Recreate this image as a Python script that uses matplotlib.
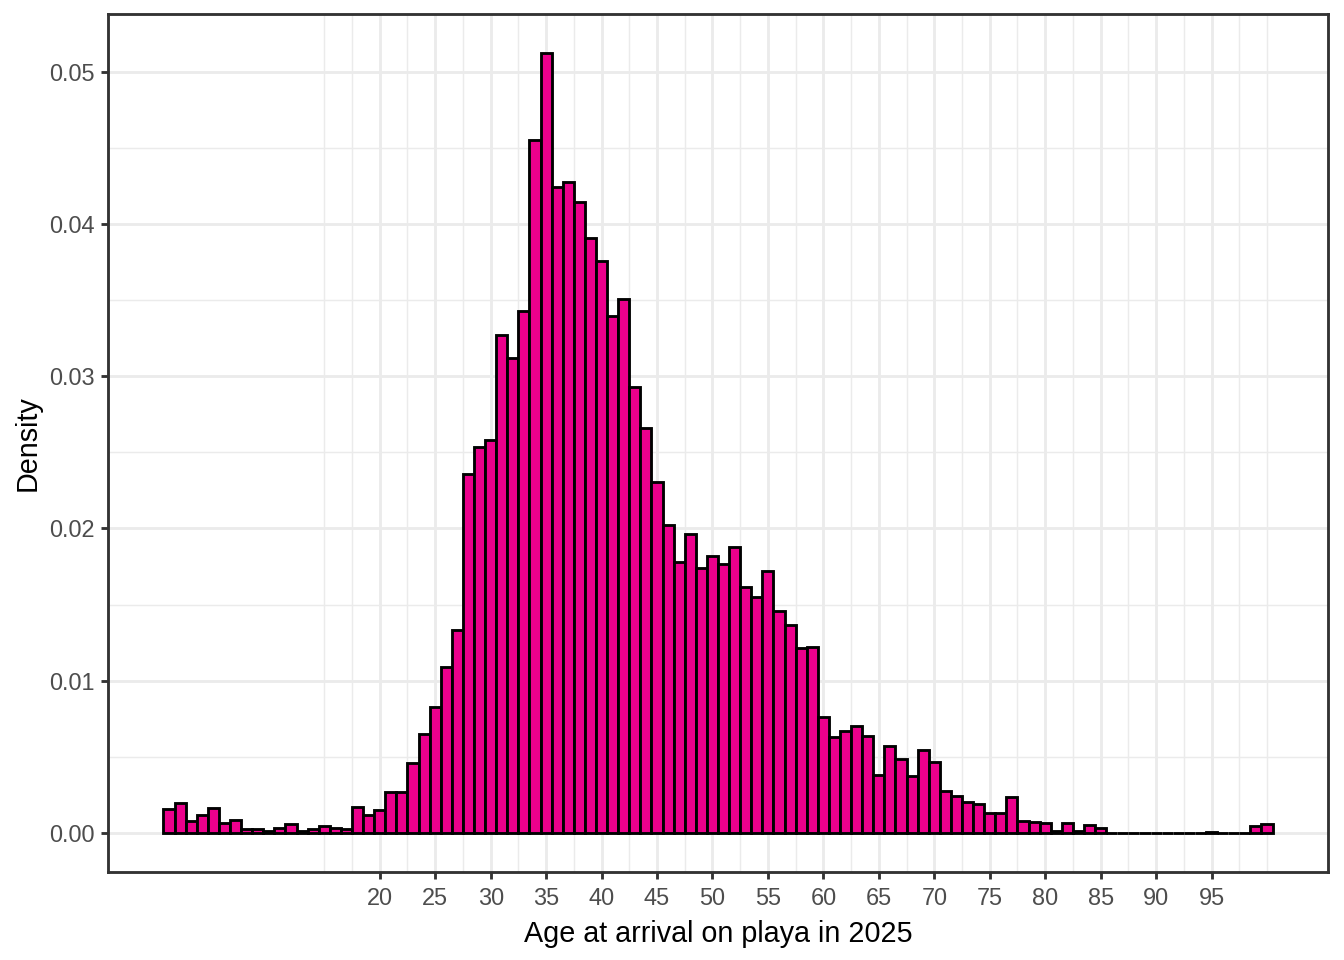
import numpy as np
import matplotlib
matplotlib.use("Agg")
import matplotlib.pyplot as plt

plt.rcParams['font.family'] = ['Liberation Sans', 'DejaVu Sans']

# age bins (width 1, centred on whole years) and density
ages = np.arange(1, 101)
density = [
    0.00160, 0.00195, 0.00082, 0.00115, 0.00167, 0.00067, 0.00084, 0.00023, 0.00023, 0.00012,
    0.00036, 0.00056, 0.00012, 0.00023, 0.00043, 0.00034, 0.00023, 0.00174, 0.00115, 0.00154,
    0.00270, 0.00270, 0.00462, 0.00652, 0.00829, 0.01091, 0.01334, 0.02356, 0.02535, 0.02580,
    0.03269, 0.03123, 0.03431, 0.04553, 0.05123, 0.04243, 0.04276, 0.04145, 0.03911, 0.03754,
    0.03393, 0.03505, 0.02928, 0.02659, 0.02305, 0.02022, 0.01779, 0.01963, 0.01742, 0.01820,
    0.01768, 0.01879, 0.01617, 0.01552, 0.01720, 0.01458, 0.01368, 0.01218, 0.01224, 0.00759,
    0.00632, 0.00672, 0.00704, 0.00634, 0.00379, 0.00573, 0.00484, 0.00372, 0.00543, 0.00464,
    0.00279, 0.00241, 0.00202, 0.00193, 0.00134, 0.00134, 0.00235, 0.00082, 0.00069, 0.00064,
    0.00013, 0.00064, 0.00013, 0.00051, 0.00031, 0.0, 0.0, 0.0, 0.0, 0.0,
    0.0, 0.0, 0.0, 0.0, 0.00008, 0.0, 0.0, 0.0, 0.00044, 0.00058,
]
x_breaks = list(range(20, 100, 5))
y_breaks = [0.00, 0.01, 0.02, 0.03, 0.04, 0.05]
y_labels = ['0.00', '0.01', '0.02', '0.03', '0.04', '0.05']

fill = '#EC008C'
grid_col = '#EBEBEB'
dark = '#333333'
lw = 1.07

fig = plt.figure(figsize=(7, 5), dpi=192)
ax = fig.add_axes([108/1344, 1 - 872/960, (1328-108)/1344, (872-14)/960])

ax.bar(ages, density, width=1.0, color=fill, edgecolor='black', linewidth=lw, zorder=3)

# limits like ggplot's 5% expansion
lo, hi = ages[0] - 0.5, ages[-1] + 0.5
ax.set_xlim(lo - 0.05*(hi-lo), hi + 0.05*(hi-lo))
ymax = max(density)
ax.set_ylim(-0.05*ymax, 1.05*ymax)

ax.set_xticks(x_breaks)
ax.set_xticklabels([str(b) for b in x_breaks])
ax.set_yticks(y_breaks)
ax.set_yticklabels(y_labels)

x_minor = [15, 17.5] + [b + 2.5 for b in x_breaks] + [100]
y_minor = [0.005, 0.015, 0.025, 0.035, 0.045]
ax.set_xticks(x_minor, minor=True)
ax.set_yticks(y_minor, minor=True)
ax.tick_params(which='minor', length=0)

ax.grid(which='major', color=grid_col, linewidth=lw, zorder=0)
ax.grid(which='minor', color=grid_col, linewidth=lw/2, zorder=0)
ax.set_axisbelow(True)

for s in ax.spines.values():
    s.set_color(dark)
    s.set_linewidth(lw)
ax.tick_params(which='major', length=2.75, width=lw, color=dark,
               labelsize=8.8, labelcolor='#4D4D4D', pad=2.2)
ax.tick_params(axis='x', which='major', pad=3.0)

ax.set_xlabel('Age at arrival on playa in 2025', fontsize=10.8, color='black', labelpad=3.5)
ax.set_ylabel('Density', fontsize=10.8, color='black', labelpad=3)

fig.savefig('out.png', dpi=192)
